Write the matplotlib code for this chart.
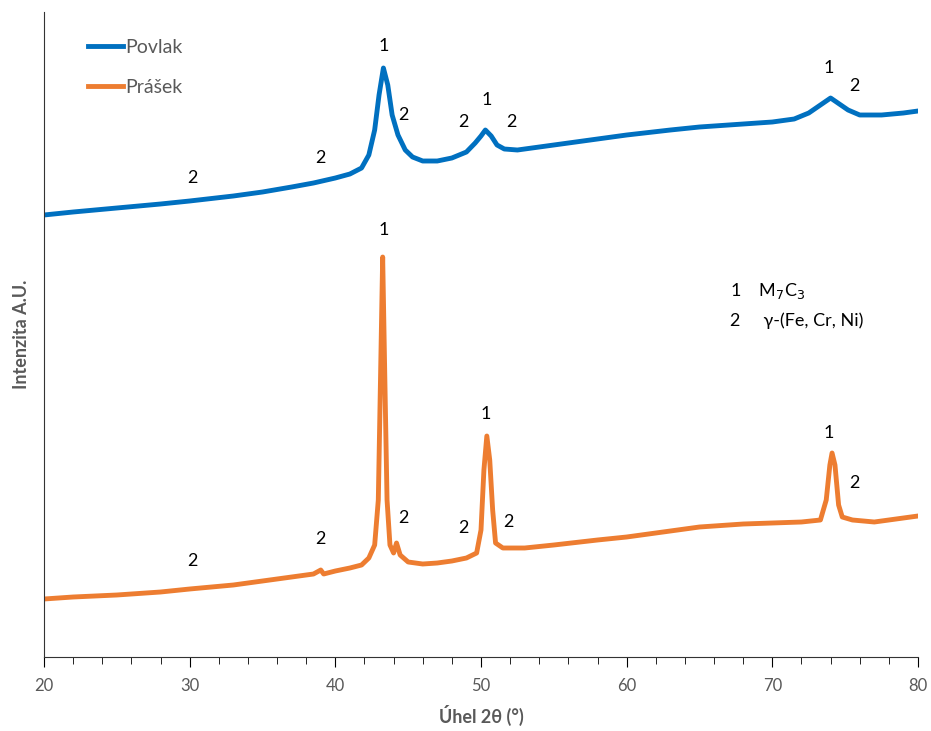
import matplotlib.pyplot as plt

# XRD patterns, values (arbitrary intensity units)
two_theta_povlak = [20, 22, 25, 28, 30, 33, 35, 37, 38.5, 40, 41, 41.8, 42.3, 42.7, 43.0, 43.3,
                    43.6, 43.9, 44.3, 44.8, 45.3, 46, 47, 48, 49, 49.6, 50.0, 50.3, 50.7, 51.1,
                    51.6, 52.5, 55, 58, 60, 63, 65, 68, 70, 71.5, 72.5, 73.3, 74.0, 74.6, 75.2,
                    76, 77.5, 79, 80]
int_povlak = [442, 445, 449, 453, 456, 461, 465, 470, 474, 479, 483, 489, 502, 527, 562, 589,
              572, 542, 522, 507, 500, 496, 496, 499, 505, 514, 521, 527, 521, 512,
              508, 507, 512, 518, 522, 527, 530, 533, 535, 538, 544, 552, 559, 553, 547,
              542, 542, 544, 546]

two_theta_prasek = [20, 22, 25, 28, 30, 33, 35, 37, 38.5, 39.0, 39.2, 40, 41, 41.8, 42.3, 42.7,
                    42.95, 43.1, 43.25, 43.4, 43.55, 43.75, 44.0, 44.2, 44.45, 45, 46, 47, 48,
                    49, 49.7, 50.0, 50.2, 50.4, 50.6, 50.8, 51.0, 51.5, 53, 55, 58, 60, 63, 65,
                    68, 70, 72, 73.3, 73.7, 73.95, 74.1, 74.3, 74.55, 74.8, 75.5, 77, 80]
int_prasek = [58, 60, 62, 65, 68, 72, 76, 80, 83, 87, 83, 86, 89, 92, 99, 112,
              157, 277, 400, 277, 157, 112, 104, 114, 102, 95, 93, 94, 96,
              99, 104, 127, 187, 221, 197, 147, 114, 109, 109, 112, 117, 120, 126, 130,
              133, 134, 135, 137, 157, 192, 204, 192, 152, 140, 137, 135, 141]

# phase labels: (text, 2theta, intensity)
labels_povlak = [("1", 43.3, 611), ("2", 44.7, 542), ("2", 48.8, 535), ("1", 50.4, 557),
                 ("2", 52.1, 535), ("2", 30.2, 479), ("2", 38.95, 499), ("1", 73.9, 589),
                 ("2", 75.6, 571)]
labels_prasek = [("1", 43.3, 427), ("2", 44.7, 139), ("2", 48.8, 129), ("1", 50.35, 243),
                 ("2", 51.9, 135), ("2", 30.2, 96), ("2", 38.95, 118), ("1", 73.9, 224),
                 ("2", 75.6, 174)]

povlak_color = '#0070C0'
prasek_color = '#ED7D31'
grey = '#595959'

plt.rcParams['font.family'] = ['Lato', 'DejaVu Sans']

fig = plt.figure(figsize=(9.31, 7.31), dpi=100)
ax = fig.add_axes([44 / 931, 74 / 731, 874 / 931, 645 / 731])

ax.plot(two_theta_povlak, int_povlak, color=povlak_color, lw=3.5, label='Povlak')
ax.plot(two_theta_prasek, int_prasek, color=prasek_color, lw=3.5, label='Prášek')

for txt, x, y in labels_povlak + labels_prasek:
    ax.text(x, y, txt, ha='center', va='center', fontsize=13, color='black')

ax.text(0.785, 0.567, "1    M$_7$C$_3$", transform=ax.transAxes, fontsize=13, va='center')
ax.text(0.785, 0.521, "2     γ-(Fe, Cr, Ni)", transform=ax.transAxes, fontsize=13, va='center')

ax.set_xlim(20, 80)
ax.set_ylim(0, 645)
ax.set_xticks(range(20, 81, 10))
ax.set_xticks(range(20, 81, 2), minor=True)
ax.tick_params(axis='x', which='major', length=7, colors='black', labelcolor=grey,
               labelsize=12, pad=8)
ax.tick_params(axis='x', which='minor', length=5, colors='black')
ax.set_yticks([])
for side in ['top', 'right']:
    ax.spines[side].set_visible(False)
ax.spines['left'].set_color('#333333')
ax.spines['bottom'].set_color('#333333')

ax.set_xlabel('Úhel 2θ (°)', fontsize=13, fontweight='bold', color=grey, labelpad=8)
ax.set_ylabel('Intenzita A.U.', fontsize=13, fontweight='bold', color=grey, labelpad=10)

leg = ax.legend(loc='upper left', bbox_to_anchor=(0.03, 0.985), frameon=False,
                fontsize=14, handlelength=1.8, handletextpad=0.15, labelspacing=1.15)
for t in leg.get_texts():
    t.set_color(grey)

fig.savefig('out.png', dpi=100)
